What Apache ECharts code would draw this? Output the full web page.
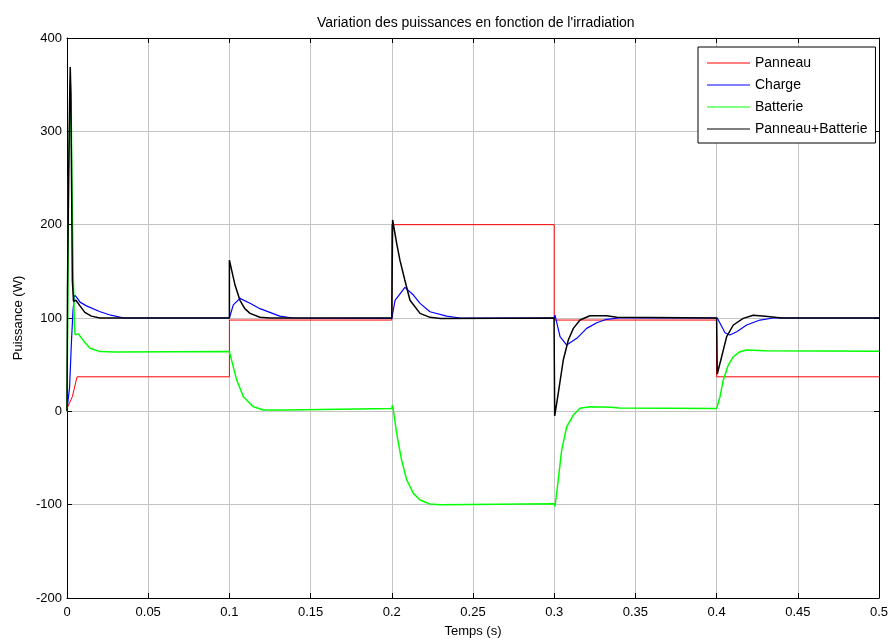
<!DOCTYPE html>
<html>
<head>
<meta charset="utf-8">
<title>Variation des puissances</title>
<script src="https://cdn.jsdelivr.net/npm/echarts@6/dist/echarts.min.js"></script>
<style>
  html, body { margin: 0; padding: 0; background: #ffffff; }
  #chart { width: 890px; height: 643px; }
</style>
</head>
<body>
<div id="chart"></div>
<script>
// Time axis (s) and power values (W) for each curve
var seriesNames = ['Panneau', 'Charge', 'Batterie', 'Panneau+Batterie'];
var xTickLabels = ['0', '0.05', '0.1', '0.15', '0.2', '0.25', '0.3', '0.35', '0.4', '0.45', '0.5'];
var yTickLabels = ['-200', '-100', '0', '100', '200', '300', '400'];

var panneauT = [0, 0.0033, 0.0062, 0.1, 0.1, 0.2, 0.2, 0.3, 0.3, 0.4, 0.4, 0.5];
var panneauP = [3, 15.7, 37, 37, 97.8, 97.8, 200, 200, 97.8, 97.8, 37, 37];

var chargeT = [0, 0.0016, 0.0027, 0.0037, 0.0047, 0.006, 0.008, 0.012, 0.02, 0.027, 0.035,
  0.1, 0.1024, 0.1065, 0.1127, 0.1188, 0.131, 0.139,
  0.2, 0.202, 0.2081, 0.2133, 0.2174, 0.2235, 0.2338, 0.242,
  0.3, 0.3005, 0.3036, 0.3077, 0.3139, 0.32, 0.3262, 0.3323, 0.34,
  0.4004, 0.4021, 0.4052, 0.4082, 0.4124, 0.4185, 0.4267, 0.435, 0.5];
var chargeP = [1.4, 26, 73, 108.5, 124.6, 122, 117, 113, 107, 103, 100,
  100, 114, 121, 115.8, 110, 102, 100,
  99.6, 119, 132.8, 124.6, 115.7, 106.7, 102, 100,
  100, 103, 80, 71, 78.2, 88.9, 94.9, 98.6, 100,
  100, 94.3, 84.2, 81.8, 85.3, 92.5, 97.8, 100, 100];

var batterieT = [0, 0.0005, 0.001, 0.0016, 0.002, 0.0025, 0.003, 0.0038, 0.0046, 0.005, 0.007, 0.01, 0.0142, 0.0203, 0.03,
  0.1, 0.1005, 0.1045, 0.1086, 0.1147, 0.121, 0.135, 0.136,
  0.2, 0.2005, 0.203, 0.206, 0.2092, 0.2133, 0.2174, 0.2235, 0.23,
  0.2999, 0.3005, 0.3025, 0.3046, 0.3077, 0.3118, 0.3159, 0.322, 0.335, 0.34,
  0.4, 0.4021, 0.4041, 0.4072, 0.4103, 0.4144, 0.4185, 0.43, 0.5];
var batterieP = [0, 120, 250, 300, 355, 330, 250, 150, 90, 82, 83, 76, 67.5, 64, 63.5,
  64, 64, 33.5, 15.7, 5, 1.5, 1.5, 3.5,
  3, 6.8, -23.6, -52, -73.6, -87.9, -95, -99.3, -100,
  -99, -102, -73.6, -41.5, -16.5, -4, 3.2, 5, 4.5, 3.5,
  3, 15.7, 33.5, 49.6, 58.5, 63.9, 65.7, 65, 64.5];

var totalT = [0, 0.0003, 0.001, 0.0016, 0.002, 0.0024, 0.0028, 0.0033, 0.004, 0.0055, 0.008, 0.011, 0.015, 0.0203,
  0.1, 0.1, 0.1035, 0.1065, 0.1095, 0.1127, 0.1188, 0.125,
  0.2, 0.2005, 0.203, 0.205, 0.208, 0.2112, 0.2174, 0.2235, 0.23,
  0.2999, 0.3003, 0.3025, 0.3056, 0.3087, 0.3118, 0.3159, 0.322, 0.3323, 0.3385,
  0.4, 0.4004, 0.4031, 0.4062, 0.4103, 0.4164, 0.4226, 0.43, 0.44, 0.5];
var totalP = [0, 130, 250, 330, 369, 340, 250, 140, 118, 119, 113, 106, 102, 100,
  100, 162, 135, 119, 110, 105, 100.8, 100,
  100, 205, 180, 162, 140.7, 119, 105, 100.7, 99.5,
  100, -5, 19.3, 55, 76.4, 88.9, 97.8, 102.4, 102.4, 100.7,
  100, 40, 58.5, 80, 92.5, 99.6, 103, 102, 100, 100];

function pairs(ts, vs) {
  return ts.map(function (t, i) { return [t, vs[i]]; });
}

var fontFamily = '"Liberation Sans", Arial, sans-serif';
var gridColor = '#c4c4c4';

function lineSeries(name, color, width, ts, vs) {
  return {
    name: name,
    type: 'line',
    data: pairs(ts, vs),
    showSymbol: false,
    symbol: 'none',
    smooth: false,
    lineStyle: { color: color, width: width },
    itemStyle: { color: color },
    emphasis: { disabled: true },
    animation: false
  };
}

// Top and right edges of the box: ticks only, no labels
function frameAxis(extra) {
  var base = {
    type: 'value',
    axisLine: { show: true, onZero: false, lineStyle: { color: '#000000', width: 1 } },
    axisTick: { show: true, inside: true, length: 5, lineStyle: { color: '#000000' } },
    axisLabel: { show: false },
    splitLine: { show: false }
  };
  return Object.assign(base, extra);
}

var chart = echarts.init(document.getElementById('chart'), null, { renderer: 'canvas' });

chart.setOption({
  backgroundColor: '#ffffff',
  animation: false,
  title: {
    text: 'Variation des puissances en fonction de l\'irradiation',
    left: 312,
    top: 11,
    textStyle: { fontFamily: fontFamily, fontSize: 14, fontWeight: 'normal', color: '#000000' }
  },
  grid: { left: 67, right: 11, top: 38, bottom: 45, containLabel: false, outerBoundsMode: 'none' },
  legend: {
    orient: 'vertical',
    left: 698,
    top: 47,
    data: seriesNames,
    icon: 'rect',
    itemWidth: 43,
    itemHeight: 1,
    itemGap: 8,
    padding: [9, 8, 7, 9],
    backgroundColor: '#ffffff',
    borderColor: '#000000',
    borderWidth: 1,
    borderRadius: 0,
    selectedMode: false,
    textStyle: { fontFamily: fontFamily, fontSize: 14, color: '#000000', lineHeight: 14 }
  },
  xAxis: [{
    type: 'value',
    min: 0,
    max: 0.5,
    interval: 0.05,
    name: 'Temps (s)',
    nameLocation: 'middle',
    nameGap: 27,
    nameTextStyle: { fontFamily: fontFamily, fontSize: 13, color: '#000000' },
    axisLine: { show: true, onZero: false, lineStyle: { color: '#000000', width: 1 } },
    axisTick: { show: true, inside: true, length: 5, lineStyle: { color: '#000000' } },
    axisLabel: {
      margin: 8,
      fontFamily: fontFamily, fontSize: 13, color: '#000000',
      formatter: function (v) { return xTickLabels[Math.round(v / 0.05)]; }
    },
    splitLine: { show: true, lineStyle: { color: gridColor, width: 1 } }
  }, frameAxis({ position: 'top', min: 0, max: 0.5, interval: 0.05 })],
  yAxis: [{
    type: 'value',
    min: -200,
    max: 400,
    interval: 100,
    name: 'Puissance (W)',
    nameLocation: 'middle',
    nameGap: 42,
    nameTextStyle: { fontFamily: fontFamily, fontSize: 13, color: '#000000' },
    axisLine: { show: true, onZero: false, lineStyle: { color: '#000000', width: 1 } },
    axisTick: { show: true, inside: true, length: 5, lineStyle: { color: '#000000' } },
    axisLabel: {
      margin: 5,
      fontFamily: fontFamily, fontSize: 13, color: '#000000',
      formatter: function (v) { return yTickLabels[Math.round((v + 200) / 100)]; }
    },
    splitLine: { show: true, lineStyle: { color: gridColor, width: 1 } }
  }, frameAxis({ position: 'right', min: -200, max: 400, interval: 100 })],
  series: [
    lineSeries(seriesNames[0], '#ff0000', 1, panneauT, panneauP),
    lineSeries(seriesNames[1], '#0000ff', 1.2, chargeT, chargeP),
    lineSeries(seriesNames[2], '#00ff00', 1.5, batterieT, batterieP),
    lineSeries(seriesNames[3], '#000000', 1.5, totalT, totalP)
  ]
});
</script>
</body>
</html>
